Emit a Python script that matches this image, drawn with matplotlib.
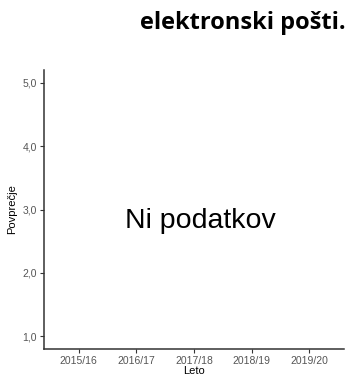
import matplotlib
matplotlib.use("Agg")
import matplotlib.pyplot as plt
import numpy as np

years = ["2015/16", "2016/17", "2017/18", "2018/19", "2019/20"]
values = [np.nan, np.nan, np.nan, np.nan, np.nan]
yticks = [1.0, 2.0, 3.0, 4.0, 5.0]
ytick_labels = ["1,0", "2,0", "3,0", "4,0", "5,0"]
title = "elektronski pošti."
no_data = "Ni podatkov"

W, H = 352, 376
fig = plt.figure(figsize=(W / 100, H / 100), dpi=100)
ax = fig.add_axes([44 / W, 1 - 349 / H, (344 - 44) / W, (349 - 70) / H])

x = np.arange(len(years))
ax.plot(x, values, color="black")

ax.set_xlim(-0.6, len(years) - 1 + 0.6)
ax.set_ylim(0.8, 5.2)
ax.set_xticks(x)
ax.set_xticklabels(years)
ax.set_yticks(yticks)
ax.set_yticklabels(ytick_labels)

for s in ["top", "right"]:
    ax.spines[s].set_visible(False)
for s in ["left", "bottom"]:
    ax.spines[s].set_linewidth(1.1)
    ax.spines[s].set_color("#333333")

ax.tick_params(axis="both", length=3, width=0.8, color="#333333",
               labelsize=7.5, labelcolor="#555555", pad=2)
for lbl in ax.get_xticklabels() + ax.get_yticklabels():
    lbl.set_family("Liberation Sans")

ax.set_xlabel("Leto", fontsize=8, family="Liberation Sans", labelpad=0)
ax.set_ylabel("Povprečje", fontsize=8, family="Liberation Sans", labelpad=4)

ax.text(200 / W, 1 - 228 / H, no_data, transform=fig.transFigure,
        ha="center", va="baseline",
        fontsize=20.5, family="Liberation Sans", color="black")

fig.text(346 / W, 1 - 29 / H, title, ha="right", va="baseline",
         fontsize=17, fontweight="bold", family="Open Sans", color="black")

fig.savefig("out.png", dpi=100)
